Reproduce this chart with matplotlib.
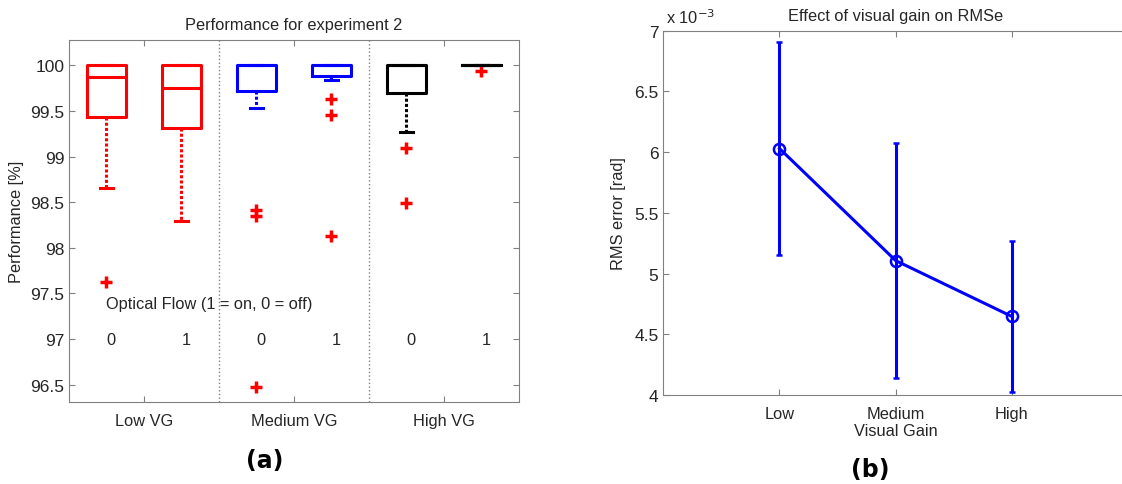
import matplotlib
matplotlib.use("Agg")
import matplotlib.pyplot as plt
from matplotlib.ticker import FuncFormatter

plt.rcParams['font.family'] = ['Liberation Sans', 'DejaVu Sans']

# ---- panel (a): box plot data (performance %) ----
grupos = ["Low VG", "Medium VG", "High VG"]
flujo = ["0", "1", "0", "1", "0", "1"]
colores = ["red", "red", "blue", "blue", "black", "black"]
q1 = [99.43, 99.31, 99.72, 99.88, 99.70, 100.0]
medianas = [99.87, 99.75, 100.0, 100.0, 100.0, 100.0]
q3 = [100.0, 100.0, 100.0, 100.0, 100.0, 100.0]
bigote_inf = [98.66, 98.29, 99.53, 99.84, 99.27, 100.0]
bigote_sup = [100.0, 100.0, 100.0, 100.0, 100.0, 100.0]
atipicos = [[97.62], [], [98.41, 98.35, 96.48], [99.63, 99.46, 98.13],
            [99.09, 98.49], [99.94]]

# ---- panel (b): RMS error vs visual gain ----
ganancia = ["Low", "Medium", "High"]
rms_media = [6.03e-3, 5.107e-3, 4.647e-3]
rms_error = [0.88e-3, 0.968e-3, 0.625e-3]

gris = "#808080"
texto = "#262626"
fs = 11.8

fig = plt.figure(figsize=(11.22, 4.85), dpi=100)

# ---------------- (a) ----------------
ax1 = fig.add_axes([0.0615, 0.169, 0.401, 0.747])
pos = list(range(1, 7))
for i in range(6):
    st = [dict(med=medianas[i], q1=q1[i], q3=q3[i], whislo=bigote_inf[i],
               whishi=bigote_sup[i], fliers=atipicos[i])]
    c = colores[i]
    ax1.bxp(st, positions=[pos[i]], widths=0.52, capwidths=0.18,
            boxprops=dict(color=c, linewidth=2.2),
            medianprops=dict(color=c, linewidth=2.2),
            whiskerprops=dict(color=c, linewidth=2.2, linestyle=(0, (1, 0.7))),
            capprops=dict(color=c, linewidth=2.2),
            flierprops=dict(marker='+', markeredgecolor='red', markersize=8,
                            markeredgewidth=2.5, linestyle='none'),
            manage_ticks=False)
    ax1.text(pos[i], 97.0, flujo[i], ha='left', va='center', fontsize=fs, color=texto)

ax1.text(1.0, 97.39, "Optical Flow (1 = on, 0 = off)", ha='left', va='center',
         fontsize=fs, color=texto)
for xd in [2.5, 4.5]:
    ax1.axvline(xd, color=gris, linestyle=':', linewidth=1)

ax1.set_xlim(0.5, 6.5)
ax1.set_ylim(96.31, 100.28)
ax1.set_xticks([1.5, 3.5, 5.5])
ax1.set_xticklabels(grupos)
ax1.set_yticks([96.5, 97, 97.5, 98, 98.5, 99, 99.5, 100])
ax1.set_yticklabels(["96.5", "97", "97.5", "98", "98.5", "99", "99.5", "100"])
ax1.set_ylabel("Performance [%]", fontsize=fs, color=texto, labelpad=4)
ax1.set_title("Performance for experiment 2", fontsize=fs, color=texto, pad=8)
fig.text(265 / 1122, 1 - 461 / 485, "(a)", ha='center', va='center',
         fontsize=17, fontweight='bold', family='DejaVu Sans')

# ---------------- (b) ----------------
ax2 = fig.add_axes([0.5912, 0.1835, 0.4141, 0.7511])
xg = [1, 2, 3]
ax2.errorbar(xg, rms_media, yerr=rms_error, color='blue', linewidth=2.2,
             elinewidth=2.2, capsize=2, capthick=2, marker='o', markersize=8,
             markerfacecolor='none', markeredgewidth=1.8)
ax2.set_xlim(0, 4)
ax2.set_ylim(4e-3, 7e-3)
ax2.set_xticks(xg)
ax2.set_xticklabels(ganancia)
ax2.set_yticks([4e-3, 4.5e-3, 5e-3, 5.5e-3, 6e-3, 6.5e-3, 7e-3])
ax2.yaxis.set_major_formatter(FuncFormatter(lambda v, p: f"{v * 1e3:g}"))
ax2.text(0.005, 1.012, r"x 10$^{-3}$", transform=ax2.transAxes, ha='left',
         va='bottom', fontsize=fs, color=texto)
ax2.set_xlabel("Visual Gain", fontsize=fs, color=texto, labelpad=1)
ax2.set_ylabel("RMS error [rad]", fontsize=fs, color=texto, labelpad=6)
ax2.set_title("Effect of visual gain on RMSe", fontsize=fs, color=texto, pad=8)
fig.text(870 / 1122, 1 - 470 / 485, "(b)", ha='center', va='center',
         fontsize=17, fontweight='bold', family='DejaVu Sans')

for ax in (ax1, ax2):
    for s in ax.spines.values():
        s.set_color(gris)
    ax.tick_params(direction='in', length=4, color=gris, labelcolor=texto,
                   labelsize=12.5, top=True, right=True)
    ax.tick_params(axis='x', pad=8, labelsize=fs)

fig.savefig("out.png", dpi=100)
